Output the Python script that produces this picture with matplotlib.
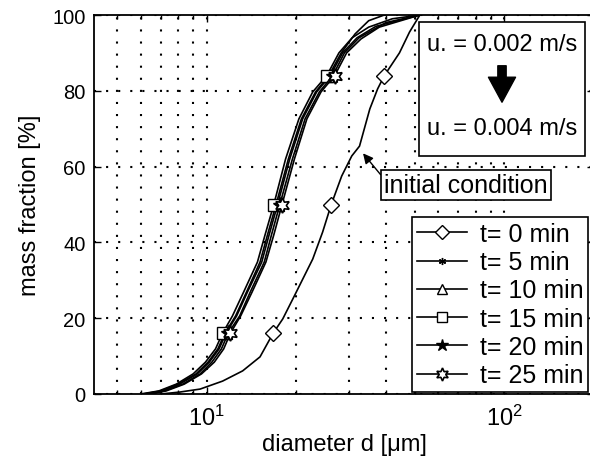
import numpy as np
import matplotlib
matplotlib.use("Agg")
import matplotlib.pyplot as plt
from matplotlib.patches import Rectangle, FancyArrowPatch
from matplotlib.ticker import LogLocator, NullFormatter, FuncFormatter

plt.rcParams['font.family'] = ['Liberation Sans', 'DejaVu Sans']
plt.rcParams['mathtext.fontset'] = 'custom'
plt.rcParams['mathtext.rm'] = 'Liberation Sans'
plt.rcParams['mathtext.default'] = 'regular'

# cumulative size distributions (diameter in um, mass fraction in %)
d_t0 = [7.0, 8.1, 9.5, 11.3, 13.2, 15.1, 16.7, 18.0, 19.7, 22.7, 24.5, 26.2, 28.4, 30.7, 32.6, 35.3,
        37.5, 39.5, 44.4, 48.0, 52.0]
y_t0 = [0, 0.5, 1.3, 3.4, 6.1, 9.8, 16, 19.8, 25.9, 35.6, 42.7, 50, 57.5, 62.8, 65.4, 75.2,
        80.5, 84, 90, 95.5, 100]
mk_t0 = [6, 11, 17]

y_low = [0, 0.8, 2.6, 5.3, 8.4, 11.9, 16, 20.6, 26.9, 34.8, 42, 50, 62, 72.6, 79.7, 84]

d_t5 = [6.1, 7.0, 8.0, 9.2, 10.1, 10.9, 11.5, 12.5, 13.6, 15.1, 16.0, 17.1, 18.8, 20.8, 23.2, 25.7,
        28.3, 31.5, 35.0, 39.5]
y_t5 = y_low + [90, 95, 98.5, 100]

d_t10 = [6.2, 7.1, 8.1, 9.3, 10.2, 11.0, 11.6, 12.6, 13.7, 15.3, 16.2, 17.3, 19.0, 21.0, 23.4, 26.0,
         28.6, 32.0, 37.0, 52.0]
y_t10 = y_low + [90, 94, 97, 100]

d_t15 = [6.0, 6.9, 7.9, 9.0, 9.9, 10.7, 11.3, 12.2, 13.3, 14.8, 15.7, 16.8, 18.4, 20.4, 22.7, 25.3,
         27.8, 30.8, 35.0, 42.0, 52.0]
y_t15 = y_low + [90, 94, 96.8, 99, 100]

d_t20 = [6.3, 7.2, 8.3, 9.5, 10.4, 11.2, 11.8, 12.9, 14.0, 15.6, 16.5, 17.6, 19.4, 21.4, 23.9, 26.5,
         29.0, 32.5, 40.0, 52.0]
y_t20 = y_low + [90, 94, 98, 100]

d_t25 = [6.4, 7.3, 8.4, 9.6, 10.6, 11.4, 12.0, 13.0, 14.2, 15.8, 16.8, 17.9, 19.7, 21.7, 24.2, 26.9,
         29.5, 33.0, 38.0, 52.0]
y_t25 = y_low + [90, 93.7, 96.8, 100]
mk_bundle = [6, 11, 15]

labels = ['t= 0 min', 't= 5 min', 't= 10 min', 't= 15 min', 't= 20 min', 't= 25 min']
y_ticks = [0, 20, 40, 60, 80, 100]

fig = plt.figure(figsize=(5.9, 4.64), dpi=100)
ax = fig.add_axes([94/590, 1-395/464, 500/590, 379/464])

lw = 1.2
ax.plot(d_t0, y_t0, 'k-', lw=lw, marker='D', ms=8, mfc='white', mec='k', markevery=mk_t0, label=labels[0])
ax.plot(d_t5, y_t5, 'k-', lw=lw, marker=(6, 2, 0), ms=6, mec='k', markevery=mk_bundle, label=labels[1])
ax.plot(d_t10, y_t10, 'k-', lw=lw, marker='^', ms=8, mfc='white', mec='k', markevery=mk_bundle, label=labels[2])
ax.plot(d_t15, y_t15, 'k-', lw=lw, marker='s', ms=8, mfc='white', mec='k', markevery=mk_bundle, label=labels[3])
ax.plot(d_t20, y_t20, 'k-', lw=lw, marker='*', ms=11, mfc='k', mec='k', markevery=mk_bundle, label=labels[4])
ax.plot(d_t25, y_t25, 'k-', lw=lw, marker=(6, 1, 0), ms=11, mfc='white', mec='k', mew=1.2, markevery=mk_bundle, label=labels[5])

ax.set_xscale('log')
ax.set_xlim(4.18, 200)
ax.set_ylim(0, 100)
ax.set_yticks(y_ticks)
ax.xaxis.set_major_locator(LogLocator(base=10))
ax.xaxis.set_major_formatter(FuncFormatter(lambda v, p: '10$^{%d}$' % round(np.log10(v))))
ax.xaxis.set_minor_locator(LogLocator(base=10, subs=np.arange(2, 10)))
ax.xaxis.set_minor_formatter(NullFormatter())
ax.tick_params(which='both', direction='in', top=True, right=True, labelsize=14.5, width=1.0)
ax.tick_params(which='major', length=5)
ax.tick_params(which='minor', length=3)
ax.tick_params(axis='x', labelsize=17, pad=8)
ax.tick_params(axis='y', pad=6)

dots = (0, (1, 4.8))
ax.grid(True, which='major', axis='both', color='k', lw=1.5, linestyle=dots)
ax.grid(True, which='minor', axis='x', color='k', lw=1.5, linestyle=dots)
for s in ax.spines.values():
    s.set_linewidth(1.3)

ax.set_xlabel('diameter d [μm]', fontsize=17, labelpad=2)
ax.set_ylabel('mass fraction [%]', fontsize=17, labelpad=8)

leg = ax.legend(loc='upper left', bbox_to_anchor=(412/590, 1-218/464), bbox_transform=fig.transFigure,
                fontsize=18, frameon=True, fancybox=False, edgecolor='k', framealpha=1,
                handlelength=2.0, handletextpad=0.5, borderpad=0.2, labelspacing=0.17,
                borderaxespad=0, markerscale=0.85)
leg.get_frame().set_linewidth(1.2)

# velocity change box
fig.patches.append(Rectangle((419/590, 1-157/464), 166/590, 134/464, transform=fig.transFigure,
                             facecolor='white', edgecolor='k', lw=1.2, zorder=5))
fig.text(502/590, 1-45/464, 'u. = 0.002 m/s', ha='center', va='center', fontsize=17, zorder=6)
fig.text(502/590, 1-129/464, 'u. = 0.004 m/s', ha='center', va='center', fontsize=17, zorder=6)
fig.patches.append(FancyArrowPatch((502/590, 1-64/464), (502/590, 1-106/464), transform=fig.transFigure,
                                   arrowstyle='simple,head_width=1.95,head_length=1.8,tail_width=0.6',
                                   mutation_scale=10, fc='k', ec='k', zorder=7))

ax.annotate('initial condition', xy=(33.5, 63.5), xytext=(466/590, 1-186/464),
            textcoords='figure fraction', ha='center', va='center', fontsize=18,
            bbox=dict(boxstyle='square,pad=0.12', fc='white', ec='k', lw=1.2),
            arrowprops=dict(arrowstyle='-|>', color='k', lw=1.0, shrinkA=0, shrinkB=0,
                            mutation_scale=15, relpos=(0, 0.75)), zorder=6)

fig.savefig('out.png', dpi=100)
